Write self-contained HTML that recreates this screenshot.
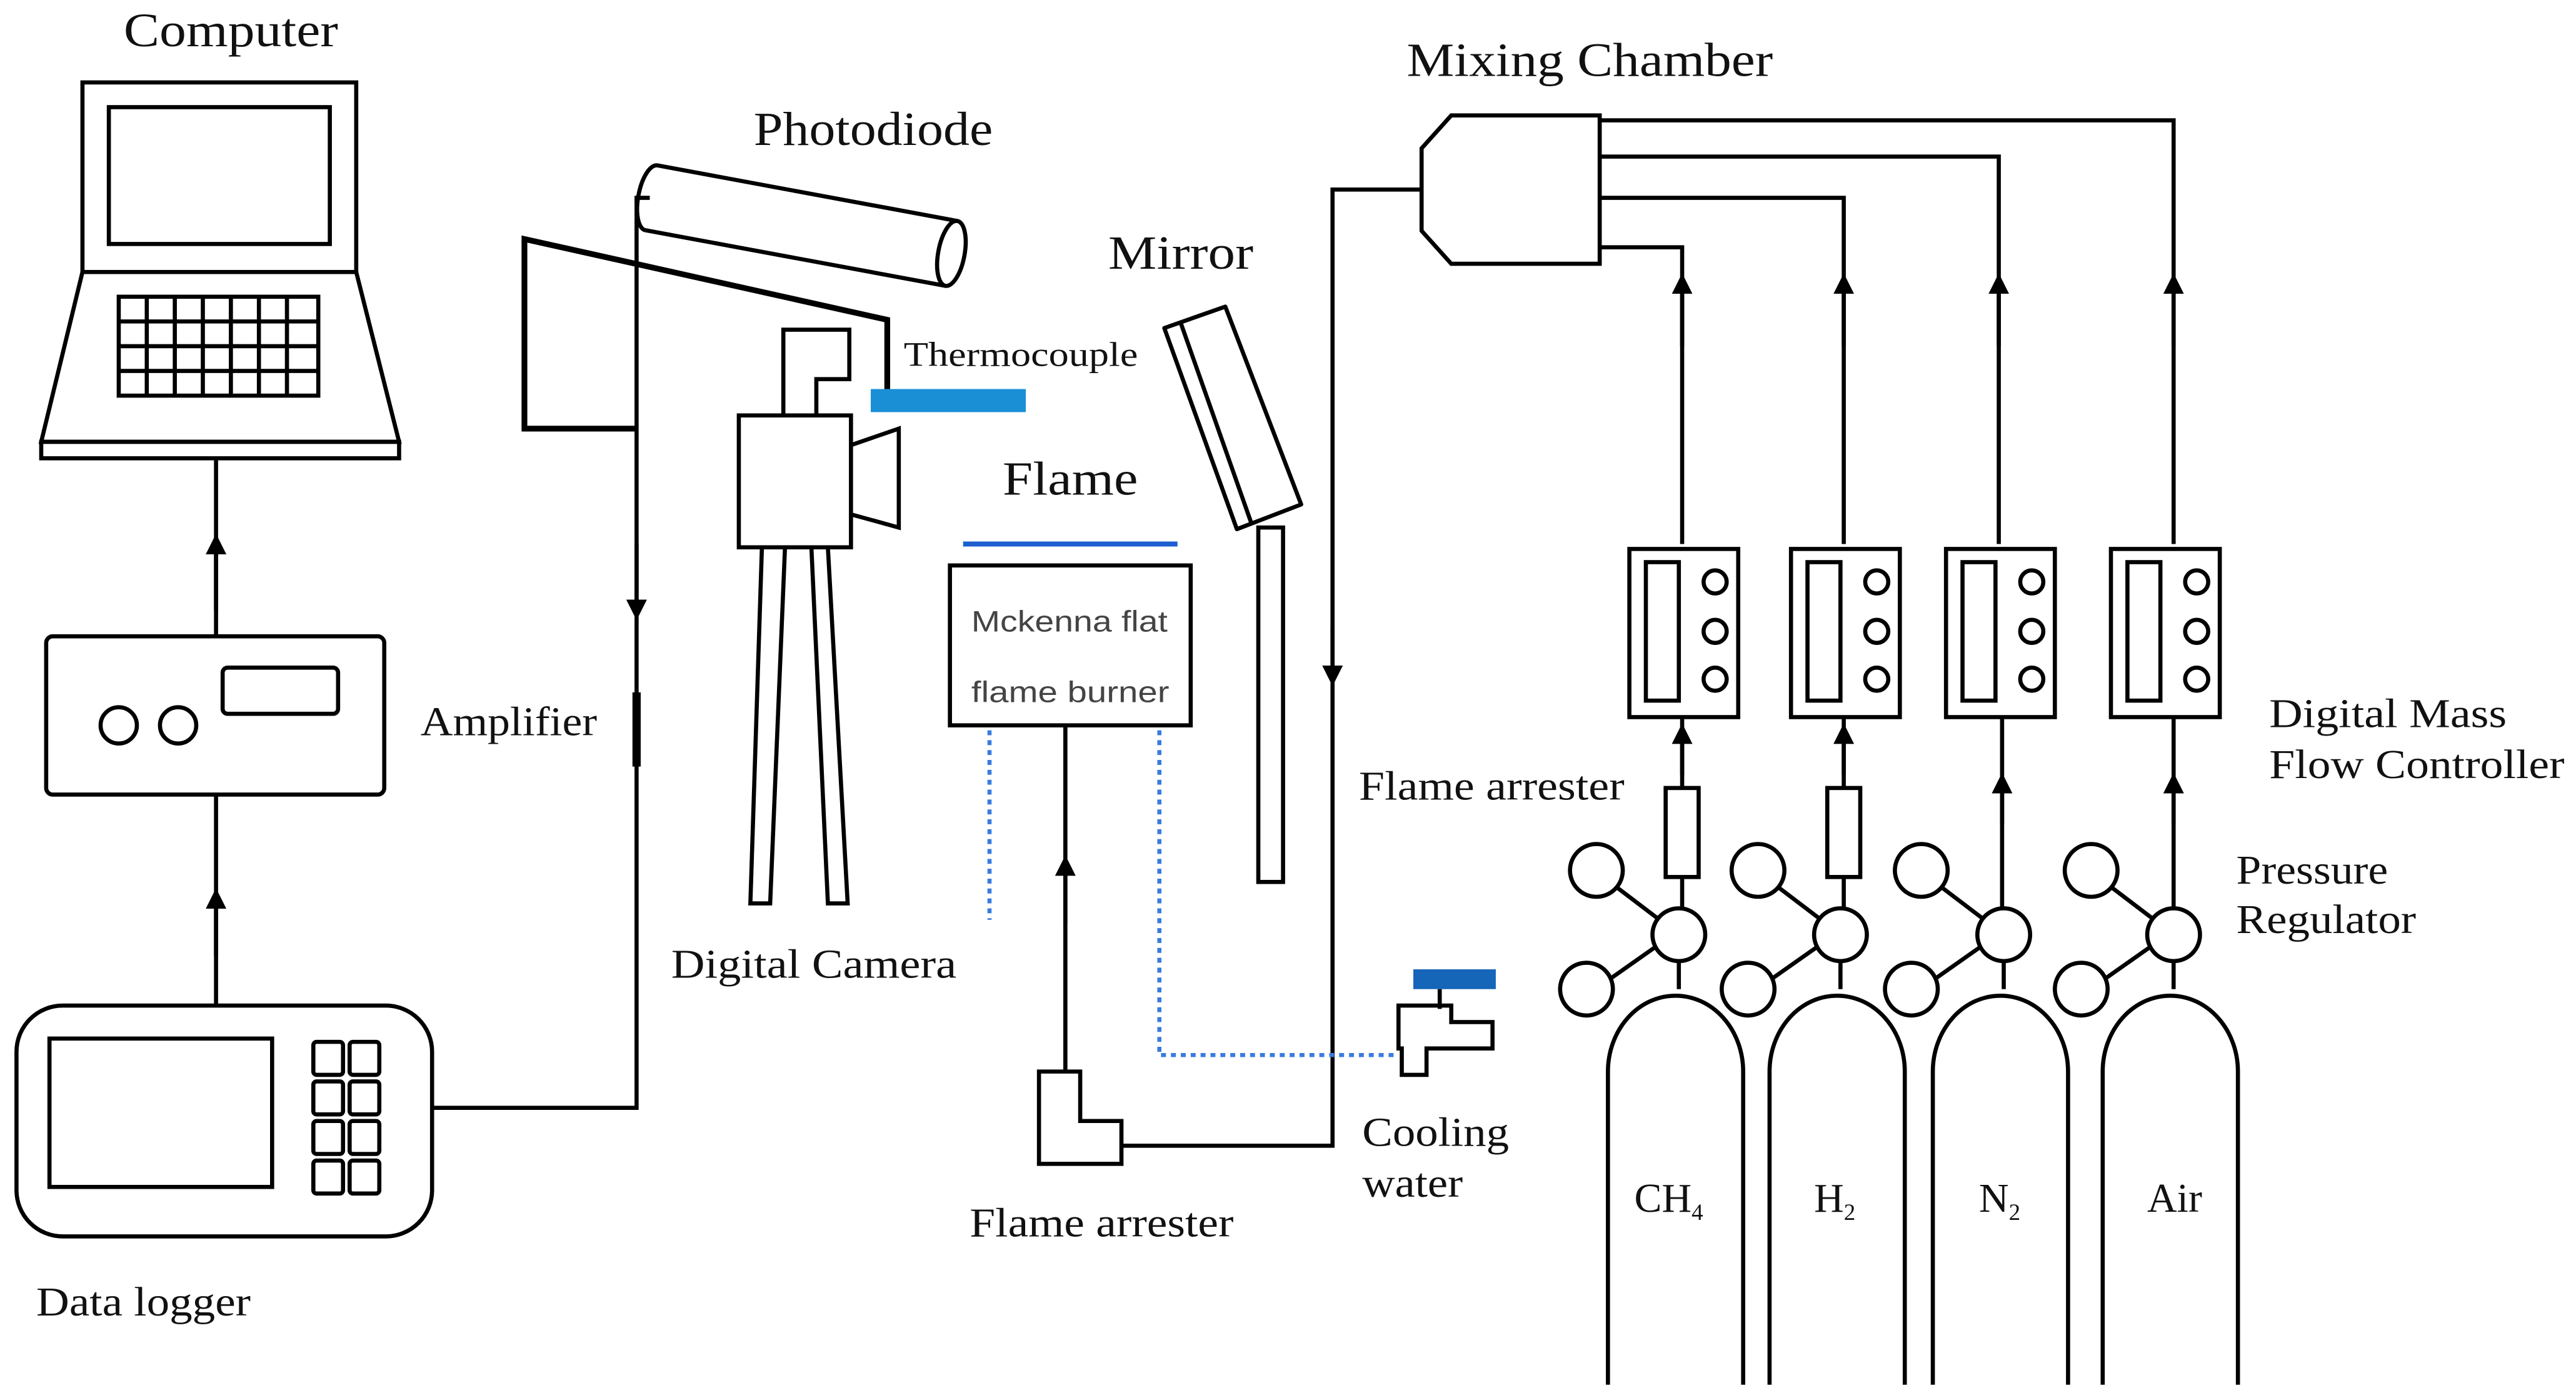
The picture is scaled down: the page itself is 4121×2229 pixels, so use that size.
<!DOCTYPE html>
<html><head><meta charset="utf-8"><style>
html,body{margin:0;padding:0;background:#fff;}
svg{display:block}
text{font-family:"Liberation Serif",serif;fill:#111}
text.s{font-family:"Liberation Sans",sans-serif;fill:#444}
</style></head><body>
<svg width="4121" height="2229" viewBox="0 0 1562 845" preserveAspectRatio="none" xmlns="http://www.w3.org/2000/svg">
<defs>
<marker id="a" viewBox="0 0 10 10" refX="5" refY="5" markerWidth="5" markerHeight="6" orient="auto-start-reverse"><path d="M0,0L10,5L0,10z" fill="#000"/></marker>
<filter id="glow"><feGaussianBlur stdDeviation="2.5"/></filter>
</defs>
<g stroke="#000" stroke-width="2.5" fill="none">
<rect x="50" y="50" width="166" height="115"/>
<rect x="66" y="65" width="134" height="83"/>
<path d="M50,165 L216,165 L242,268 L25,268 Z"/>
<rect x="25" y="268" width="217" height="10"/>
<rect x="72" y="180" width="121" height="60"/>
<path d="M89,180V240M106,180V240M123,180V240M140,180V240M157,180V240M174,180V240M72,195H193M72,210H193M72,225H193"/>
<path d="M131,610V482M131,386V278"/>
<path d="M131,580V545" marker-end="url(#a)"/>
<path d="M131,370V330" marker-end="url(#a)"/>
<rect x="28" y="386" width="205" height="96" rx="4"/>
<circle cx="72" cy="440" r="11"/><circle cx="108" cy="440" r="11"/>
<rect x="135" y="405" width="70" height="28" rx="3"/>
<rect x="10" y="610" width="252" height="140" rx="28"/>
<rect x="30" y="630" width="135" height="90"/>
<rect x="190" y="632" width="18" height="20" rx="2"/><rect x="212" y="632" width="18" height="20" rx="2"/>
<rect x="190" y="656" width="18" height="20" rx="2"/><rect x="212" y="656" width="18" height="20" rx="2"/>
<rect x="190" y="680" width="18" height="20" rx="2"/><rect x="212" y="680" width="18" height="20" rx="2"/>
<rect x="190" y="704" width="18" height="20" rx="2"/><rect x="212" y="704" width="18" height="20" rx="2"/>
<path d="M262,672H386V120H394"/>
<path d="M386,330V370" marker-end="url(#a)"/>
<path d="M386,420V465" stroke-width="5"/>
<path d="M386,260H318V145L538,194V236" stroke-width="3.5"/>
<g transform="rotate(10.5 395 120)">
<path d="M395,100H580M395,140H580"/>
<path d="M395,100A8,20 0 0 0 395,140"/>
<ellipse cx="580" cy="120" rx="8" ry="20"/>
</g>
<rect x="448" y="252" width="68" height="80"/>
<path d="M475,252V200H515V230H495V252"/>
<path d="M516,270L545,260V320L516,312"/>
<path d="M462,332L455,548H467L476,332M492,332L502,548H514L502,332"/>
<rect x="576" y="343" width="146" height="97"/>
<path d="M646,440V650"/>
<path d="M646,560V525" marker-end="url(#a)"/>
<path d="M630,650H655V680H680V706H630Z"/>
<path d="M680,695H808V115H862"/>
<path d="M808,380V410" marker-end="url(#a)"/>
<path d="M848,610H880V620H905V636H865V652H850V636H848Z"/>
<path d="M873,600V612"/>
<path d="M706,199L743,186L789,306L750,321Z" stroke-linejoin="round"/>
<path d="M716,196L759,318"/>
<rect x="763" y="320" width="15" height="215"/>
<path d="M880,70H970V160H880L862,140V90Z"/>
<path d="M970,73H1318V330M970,95H1212V330M970,120H1118V330M970,150H1020V330"/>
<path d="M1020,210V172" marker-end="url(#a)"/><path d="M1118,210V172" marker-end="url(#a)"/>
<path d="M1212,210V172" marker-end="url(#a)"/><path d="M1318,210V172" marker-end="url(#a)"/>
</g>
<rect x="528" y="236" width="94" height="14" fill="#1a8fd6"/>
<rect x="857" y="588" width="50" height="12" fill="#1565b8"/>
<line x1="582" y1="330" x2="716" y2="330" stroke="#6db4ff" stroke-width="10" filter="url(#glow)"/>
<line x1="584" y1="330" x2="714" y2="330" stroke="#1e5fd0" stroke-width="3"/>
<g stroke="#3a7be0" stroke-width="2.5" stroke-dasharray="3,3" fill="none">
<path d="M600,443V558M703,443V640H845"/>
</g>
<g stroke="#000" stroke-width="2.5" fill="none">
<g id="g1">
<rect x="988" y="333" width="66" height="102"/>
<rect x="998" y="341" width="20" height="84"/>
<circle cx="1040" cy="353" r="7"/><circle cx="1040" cy="383" r="7"/><circle cx="1040" cy="412" r="7"/>
</g>
<use href="#g1" x="98"/><use href="#g1" x="192"/><use href="#g1" x="292"/>
<path d="M1020,435V478M1020,532V551M1118,435V478M1118,532V551M1214,435V551M1318,435V551"/>
<rect x="1010" y="478" width="20" height="54"/><rect x="1108" y="478" width="20" height="54"/>
<path d="M1020,470V445" marker-end="url(#a)"/><path d="M1118,470V445" marker-end="url(#a)"/>
<path d="M1214,500V475" marker-end="url(#a)"/><path d="M1318,500V475" marker-end="url(#a)"/>
<g id="r1">
<circle cx="1018" cy="567" r="16"/>
<circle cx="968" cy="528" r="16"/><circle cx="962" cy="600" r="16"/>
<path d="M980,538L1005,557M976,594L1003,575M1018,583V600"/>
<path d="M975,840V650A41,46 0 0 1 1057,650V840"/>
</g>
<use href="#r1" x="98"/><use href="#r1" x="197"/><use href="#r1" x="300"/>
</g>
<g font-size="29">
<text x="75" y="28" textLength="130" lengthAdjust="spacingAndGlyphs">Computer</text>
<text x="457" y="88" textLength="145" lengthAdjust="spacingAndGlyphs">Photodiode</text>
<text x="672" y="163" textLength="88" lengthAdjust="spacingAndGlyphs">Mirror</text>
<text x="853" y="46" textLength="222" lengthAdjust="spacingAndGlyphs">Mixing Chamber</text>
<text x="608" y="300" textLength="82" lengthAdjust="spacingAndGlyphs">Flame</text>
</g>
<g font-size="25">
<text x="255" y="446" textLength="107" lengthAdjust="spacingAndGlyphs">Amplifier</text>
<text x="22" y="798" textLength="130" lengthAdjust="spacingAndGlyphs">Data logger</text>
<text x="407" y="593" textLength="173" lengthAdjust="spacingAndGlyphs">Digital Camera</text>
<text x="588" y="750" textLength="160" lengthAdjust="spacingAndGlyphs">Flame arrester</text>
<text x="824" y="485" textLength="161" lengthAdjust="spacingAndGlyphs">Flame arrester</text>
<text x="826" y="695" textLength="89" lengthAdjust="spacingAndGlyphs">Cooling</text>
<text x="826" y="726" textLength="61" lengthAdjust="spacingAndGlyphs">water</text>
<text x="1376" y="441" textLength="144" lengthAdjust="spacingAndGlyphs">Digital Mass</text>
<text x="1376" y="472" textLength="179" lengthAdjust="spacingAndGlyphs">Flow Controller</text>
<text x="1356" y="536" textLength="92" lengthAdjust="spacingAndGlyphs">Pressure</text>
<text x="1356" y="566" textLength="109" lengthAdjust="spacingAndGlyphs">Regulator</text>
<text x="991" y="735">CH<tspan font-size="14" dy="5">4</tspan></text>
<text x="1100" y="735">H<tspan font-size="14" dy="5">2</tspan></text>
<text x="1200" y="735">N<tspan font-size="14" dy="5">2</tspan></text>
<text x="1302" y="735">Air</text>
</g>
<text x="548" y="222" font-size="21" textLength="142" lengthAdjust="spacingAndGlyphs">Thermocouple</text>
<text class="s" x="589" y="383" font-size="18" textLength="119" lengthAdjust="spacingAndGlyphs">Mckenna flat</text>
<text class="s" x="589" y="426" font-size="18" textLength="120" lengthAdjust="spacingAndGlyphs">flame burner</text>
</svg>
</body></html>
